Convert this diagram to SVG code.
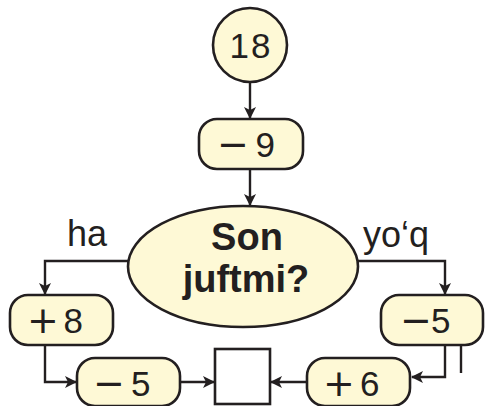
<svg xmlns="http://www.w3.org/2000/svg" width="485" height="406" viewBox="0 0 485 406">
<defs>
<style>
.n{fill:#fef9d6;stroke:#231f20;stroke-width:2.6}
.w{fill:#ffffff;stroke:#231f20;stroke-width:2.6}
.c{fill:none;stroke:#231f20;stroke-width:2.4}
.t{font-family:"Liberation Sans",Arial,sans-serif;fill:#231f20;font-size:35px}
.op{font-family:"DejaVu Sans",sans-serif;font-size:38px}
.b{font-family:"Liberation Sans",Arial,sans-serif;fill:#231f20;font-size:38px;font-weight:bold}
.l{font-family:"Liberation Sans",Arial,sans-serif;fill:#231f20;font-size:36px}
</style>
<marker id="ah" viewBox="0 0 12 12" refX="11" refY="6" markerWidth="12" markerHeight="12" markerUnits="userSpaceOnUse" orient="auto">
<path d="M0,0 L12,6 L0,12 L3,6 z" fill="#231f20"/>
</marker>
</defs>
<g id="connectors">
<path class="c" d="M250,82 V118" marker-end="url(#ah)"/>
<path class="c" d="M250,169 V205" marker-end="url(#ah)"/>
<path class="c" d="M129,261 H45 V294" marker-end="url(#ah)"/>
<path class="c" d="M357,261 H445 V294" marker-end="url(#ah)"/>
<path class="c" d="M45,345 V382 H76" marker-end="url(#ah)"/>
<path class="c" d="M180,382 H214" marker-end="url(#ah)"/>
<path class="c" d="M307,382 H271" marker-end="url(#ah)"/>
<path class="c" d="M445,345 V377 H412" marker-end="url(#ah)"/>
<path class="c" d="M461,345 V373"/>
</g>
<g id="n18">
<circle class="n" cx="250" cy="45" r="37"/>
<text class="t" x="251" y="58" text-anchor="middle" letter-spacing="2">18</text>
</g>
<g id="m9">
<rect class="n" x="199" y="119" width="104" height="50" rx="18"/>
<text class="t" y="157"><tspan class="op" x="217">−</tspan><tspan x="255.5">9</tspan></text>
</g>
<g id="decision">
<ellipse class="n" cx="243" cy="266.5" rx="115" ry="60.5"/>
<text class="b" x="247" y="250" text-anchor="middle">Son</text>
<text class="b" x="246" y="292" text-anchor="middle">juftmi?</text>
</g>
<text class="l" x="67" y="246">ha</text>
<text class="l" x="363" y="247">yo‘q</text>
<g id="p8">
<rect class="n" x="10" y="295" width="103" height="50" rx="18"/>
<text class="t" y="333"><tspan class="op" x="27">+</tspan><tspan x="63.5">8</tspan></text>
</g>
<g id="m5left">
<rect class="n" x="77" y="358" width="103" height="48" rx="18"/>
<text class="t" y="396"><tspan class="op" x="93">−</tspan><tspan x="131">5</tspan></text>
</g>
<g id="result">
<rect class="w" x="215" y="349" width="55" height="55"/>
</g>
<g id="p6">
<rect class="n" x="307" y="358" width="103" height="48" rx="18"/>
<text class="t" y="396"><tspan class="op" x="323">+</tspan><tspan x="360">6</tspan></text>
</g>
<g id="m5right">
<rect class="n" x="381" y="295" width="102" height="50" rx="18"/>
<text class="t" y="333"><tspan class="op" x="400">−</tspan><tspan x="431">5</tspan></text>
</g>
</svg>
